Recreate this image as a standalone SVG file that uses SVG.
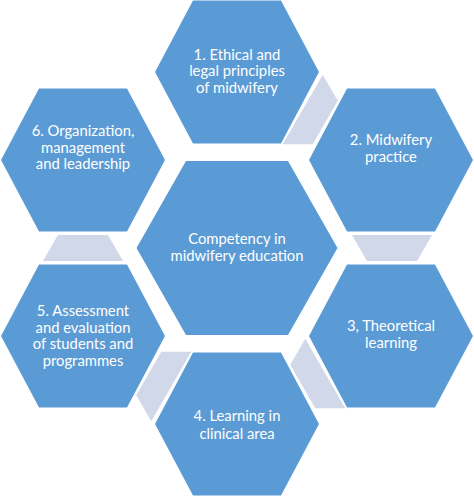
<svg xmlns="http://www.w3.org/2000/svg" xmlns:xlink="http://www.w3.org/1999/xlink" width="474" height="496" viewBox="0 0 474 496">
<style>
.hex{fill:#5B9BD5;}
.conn{fill:#D0D8EA;}
.t{font-family:Lato,"Open Sans","Liberation Sans",sans-serif;font-size:14.8px;fill:#FFFFFF;text-anchor:middle;}
</style>
<defs>
<polygon id="c" class="conn" points="-40,-13 40,-13 25,13 -25,13"/>
</defs>
<rect width="474" height="496" fill="#FFFFFF"/>
<g id="connectors">
<use xlink:href="#c" transform="translate(314,116) rotate(-60)"/>
<use xlink:href="#c" transform="translate(392,248)"/>
<use xlink:href="#c" transform="translate(314,380) rotate(60)"/>
<use xlink:href="#c" transform="translate(160,380) rotate(120)"/>
<use xlink:href="#c" transform="translate(83,248) rotate(180)"/>
</g>
<g id="center">
<polygon class="hex" points="136.5,248 186,161 288,161 337.5,248 288,335 186,335"/>
<text class="t" x="237" y="243.5">Competency in</text>
<text class="t" x="237" y="260.5">midwifery education</text>
</g>
<g id="n1">
<polygon class="hex" points="155,72 193,0.5 281,0.5 319,72 281,143.5 193,143.5"/>
<text class="t" x="237" y="59.5">1. Ethical and</text>
<text class="t" x="237" y="76">legal principles</text>
<text class="t" x="237" y="92.5">of midwifery</text>
</g>
<g id="n2">
<polygon class="hex" points="309,160 347,88.5 435,88.5 473,160 435,231.5 347,231.5"/>
<text class="t" x="391" y="144.5">2. Midwifery</text>
<text class="t" x="391" y="161.5">practice</text>
</g>
<g id="n3">
<polygon class="hex" points="309,336 347,264.5 435,264.5 473,336 435,407.5 347,407.5"/>
<text class="t" x="391" y="331">3, Theoretical</text>
<text class="t" x="391" y="348">learning</text>
</g>
<g id="n4">
<polygon class="hex" points="155,424 193,352.5 281,352.5 319,424 281,495.5 193,495.5"/>
<text class="t" x="237" y="421">4. Learning in</text>
<text class="t" x="237" y="438.5">clinical area</text>
</g>
<g id="n5">
<polygon class="hex" points="1,336 39,264.5 127,264.5 165,336 127,407.5 39,407.5"/>
<text class="t" x="83" y="316">5. Assessment</text>
<text class="t" x="83" y="332.5">and evaluation</text>
<text class="t" x="83" y="349">of students and</text>
<text class="t" x="83" y="365.5">programmes</text>
</g>
<g id="n6">
<polygon class="hex" points="1,160 39,88.5 127,88.5 165,160 127,231.5 39,231.5"/>
<text class="t" x="83" y="136">6. Organization,</text>
<text class="t" x="83" y="152.5">management</text>
<text class="t" x="83" y="169">and leadership</text>
</g>
</svg>
